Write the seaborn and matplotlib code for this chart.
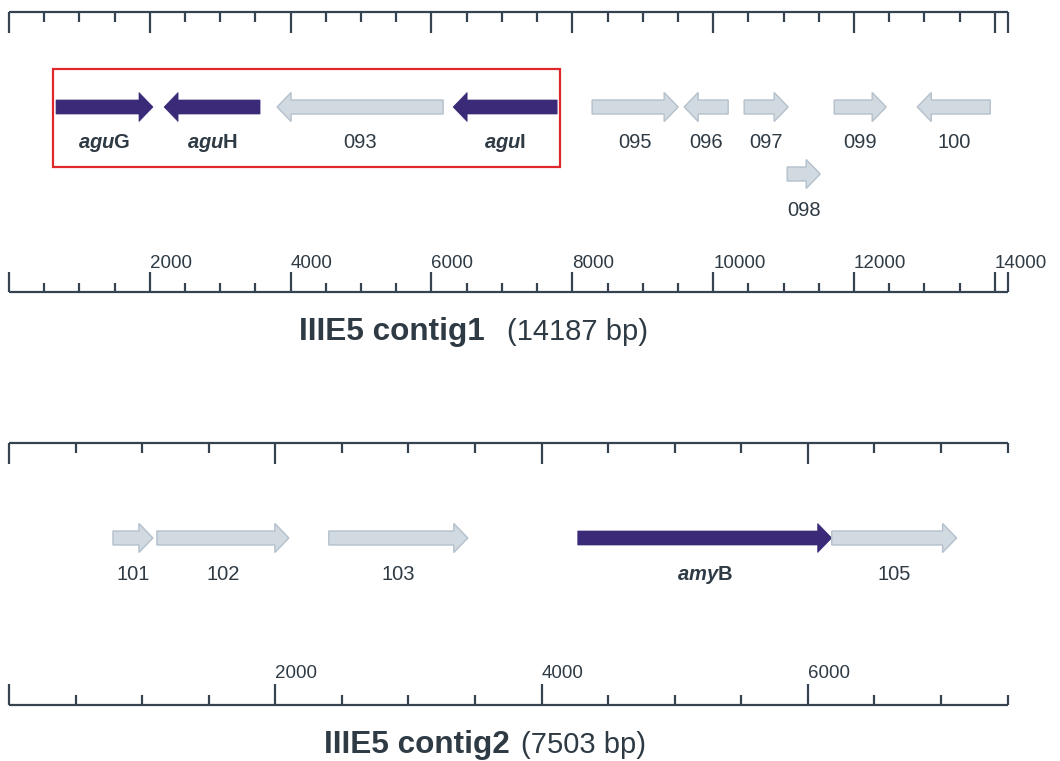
import numpy as np
import pandas as pd
import seaborn as sns
import matplotlib
matplotlib.use("Agg")
import matplotlib.pyplot as plt
from matplotlib.patches import Polygon, Rectangle

# ---------------- data ----------------
contig1_name = "IIIE5 contig1"
contig1_length = 14187
contig1_genes = ["aguG", "aguH", "093", "aguI", "095", "096", "097", "098", "099", "100"]
contig1_start = [668, 2202, 3807, 6307, 8281, 9588, 10440, 11051, 11719, 12898]
contig1_end = [2045, 3565, 6165, 7784, 9503, 10213, 11065, 11520, 12457, 13935]
contig1_strand = [1, -1, -1, -1, 1, -1, 1, 1, 1, -1]
contig1_row = [0, 0, 0, 0, 0, 0, 0, 1, 0, 0]
contig1_highlight = [True, True, False, True, False, False, False, False, False, False]

contig2_name = "IIIE5 contig2"
contig2_length = 7503
contig2_genes = ["101", "102", "103", "amyB", "105"]
contig2_start = [781, 1111, 2402, 4272, 6179]
contig2_end = [1081, 2102, 3446, 6179, 7117]
contig2_strand = [1, 1, 1, 1, 1]
contig2_row = [0, 0, 0, 0, 0]
contig2_highlight = [False, False, False, True, False]

# ---------------- style ----------------
sns.set_theme(style="white")
plt.rcParams['font.family'] = ['Liberation Sans', 'DejaVu Sans']
plt.rcParams['mathtext.fontset'] = 'custom'
plt.rcParams['mathtext.rm'] = 'Liberation Sans'
plt.rcParams['mathtext.it'] = 'Liberation Sans:italic'
plt.rcParams['mathtext.bf'] = 'Liberation Sans:bold'
plt.rcParams['mathtext.bfit'] = 'Liberation Sans:italic:bold'

DARK = "#3A2A78"
LIGHT = "#D1D9E1"
LIGHT_EDGE = "#B4C0CB"
RULER = "#34434F"
TEXT = "#2E3A44"
RED = "#E0282C"

W, H = 1060, 761
fig = plt.figure(figsize=(W / 100, H / 100), dpi=100)

RULER_X0, RULER_X1 = 9, 1008  # pixel extent of the rulers


def make_axes(L, top, bottom):
    ax = fig.add_axes([0, 1 - bottom / H, 1, (bottom - top) / H])
    s = (RULER_X1 - RULER_X0) / L  # px per bp
    ax.set_xlim(-RULER_X0 / s, (W - RULER_X0) / s)
    ax.set_ylim(bottom, top)
    ax.set_axis_off()
    return ax, s


def ruler(ax, L, y, direction, labels, major_len, minor_len, label_gap):
    ax.hlines(y, 0, L, color=RULER, lw=1.6, clip_on=False, capstyle='butt')
    ticks = list(np.arange(0, L + 1, 500))
    for t in ticks:
        major = (t % 2000 == 0)
        ln = major_len if major else minor_len
        ax.vlines(t, y, y + direction * ln, color=RULER, lw=1.6, clip_on=False)
        if labels and major and t > 0:
            ax.text(t, y - label_gap, f"{t}", ha='left', va='center',
                    fontsize=13.5, color=TEXT, clip_on=False)
    if L - ticks[-1] > 50:
        ax.vlines(L, y, y + direction * major_len, color=RULER, lw=1.6, clip_on=False)


def label_text(name, hl):
    if hl:
        return r"$\mathbfit{" + name[:-1] + "}$" + name[-1]
    return name


def genes(ax, s, names, starts, ends, strands, rows, highlights, yc0, row_gap, label_off):
    hl_len = 14 / s
    for n, a, b, st, r, hl in zip(names, starts, ends, strands, rows, highlights):
        yc = yc0 + r * row_gap
        hs = 7
        hh = 14.5
        if st > 0:
            base = b - hl_len
            pts = [(a, yc - hs), (base, yc - hs), (base, yc - hh), (b, yc),
                   (base, yc + hh), (base, yc + hs), (a, yc + hs)]
        else:
            base = a + hl_len
            pts = [(b, yc - hs), (base, yc - hs), (base, yc - hh), (a, yc),
                   (base, yc + hh), (base, yc + hs), (b, yc + hs)]
        if hl:
            p = Polygon(pts, closed=True, facecolor=DARK, edgecolor=DARK, lw=0.5, clip_on=False)
        else:
            p = Polygon(pts, closed=True, facecolor=LIGHT, edgecolor=LIGHT_EDGE, lw=1.0, clip_on=False)
        ax.add_patch(p)
        ax.text((a + b) / 2, yc + label_off, label_text(n, hl), ha='center', va='center',
                fontsize=14.5, color=TEXT, fontweight='bold' if hl else 'normal', clip_on=False)


# ---------------- contig 1 ----------------
ax1, s1 = make_axes(contig1_length, 0, 400)
ruler(ax1, contig1_length, 12, +1, False, 21, 10, 0)
ruler(ax1, contig1_length, 292, -1, True, 20, 9, 29)
genes(ax1, s1, contig1_genes, contig1_start, contig1_end, contig1_strand, contig1_row,
      contig1_highlight, 107, 67, 36)
# red box around highlighted cluster (genes 0-3)
pad = 3 / s1
bx0 = min(contig1_start[:4]) - pad
bx1 = max(contig1_end[:4]) + pad
ax1.add_patch(Rectangle((bx0, 69), bx1 - bx0, 98, fill=False, edgecolor=RED, lw=1.6, clip_on=False))

# ---------------- contig 2 ----------------
ax2, s2 = make_axes(contig2_length, 400, 761)
ruler(ax2, contig2_length, 443, +1, False, 21, 10, 0)
ruler(ax2, contig2_length, 705, -1, True, 21, 10, 32)
genes(ax2, s2, contig2_genes, contig2_start, contig2_end, contig2_strand, contig2_row,
      contig2_highlight, 538, 0, 37)

# ---------------- titles ----------------
fig.text(485 / W, 1 - 332 / H, contig1_name, ha='right', va='center', fontsize=22.7,
         fontweight='bold', color=TEXT)
fig.text(507 / W, 1 - 332 / H, f"({contig1_length} bp)", ha='left', va='center', fontsize=21,
         color=TEXT)
fig.text(510 / W, 1 - 745 / H, contig2_name, ha='right', va='center', fontsize=22.7,
         fontweight='bold', color=TEXT)
fig.text(521 / W, 1 - 745 / H, f"({contig2_length} bp)", ha='left', va='center', fontsize=21,
         color=TEXT)

fig.savefig("out.png", dpi=100, facecolor="white")
